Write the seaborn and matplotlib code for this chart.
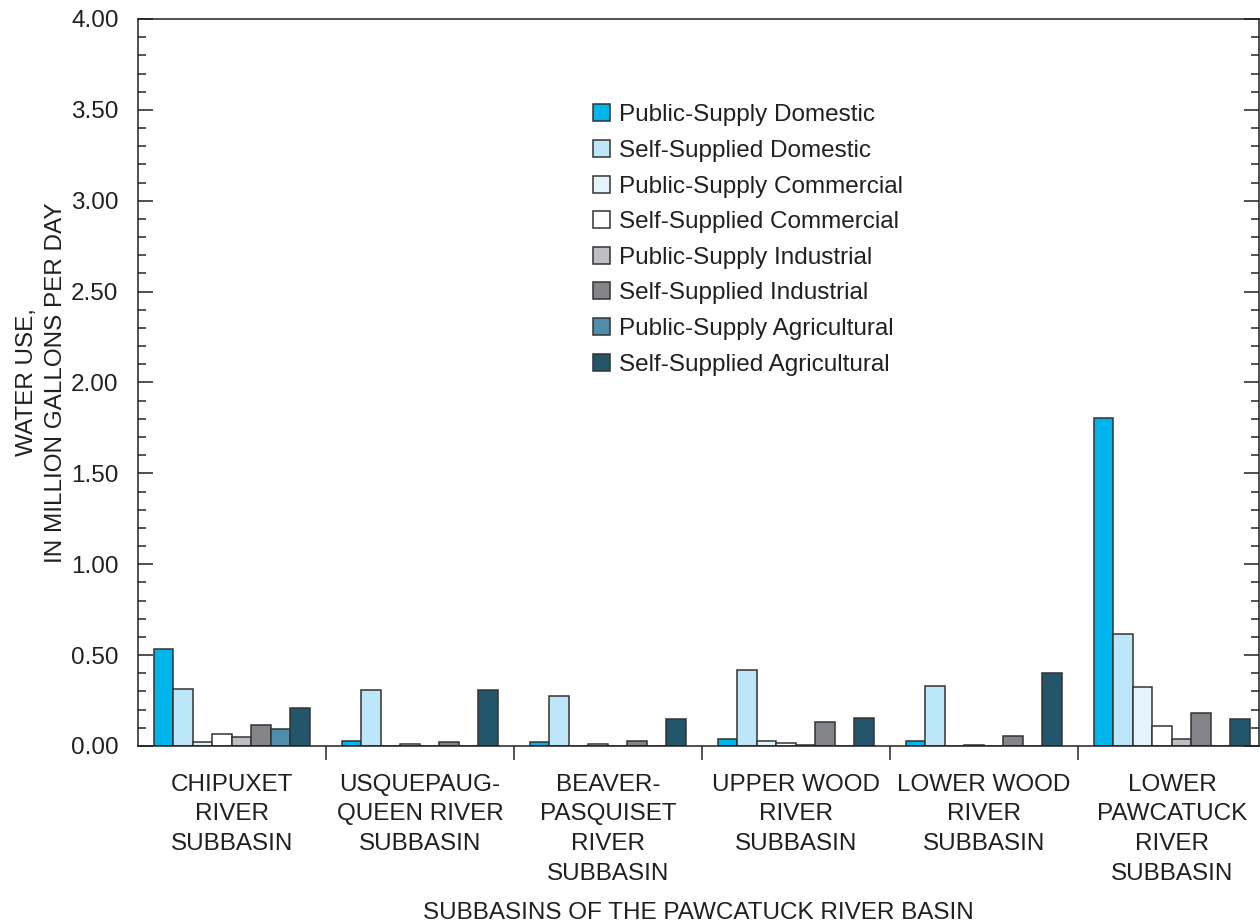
import numpy as np
import pandas as pd
import matplotlib
matplotlib.use("Agg")
import matplotlib.pyplot as plt
import seaborn as sns
from matplotlib.ticker import MultipleLocator, FormatStrFormatter

subbasins = ["CHIPUXET\nRIVER\nSUBBASIN", "USQUEPAUG-\nQUEEN RIVER\nSUBBASIN",
             "BEAVER-\nPASQUISET\nRIVER\nSUBBASIN", "UPPER WOOD\nRIVER\nSUBBASIN",
             "LOWER WOOD\nRIVER\nSUBBASIN", "LOWER\nPAWCATUCK\nRIVER\nSUBBASIN"]
categories = ["Public-Supply Domestic", "Self-Supplied Domestic",
              "Public-Supply Commercial", "Self-Supplied Commercial",
              "Public-Supply Industrial", "Self-Supplied Industrial",
              "Public-Supply Agricultural", "Self-Supplied Agricultural"]

ps_domestic = [0.532, 0.027, 0.024, 0.037, 0.027, 1.806]
ss_domestic = [0.315, 0.310, 0.273, 0.418, 0.332, 0.618]
ps_commercial = [0.022, 0.0, 0.0, 0.030, 0.0, 0.323]
ss_commercial = [0.068, 0.013, 0.011, 0.015, 0.005, 0.110]
ps_industrial = [0.051, 0.0, 0.0, 0.004, 0.0, 0.038]
ss_industrial = [0.115, 0.020, 0.030, 0.130, 0.055, 0.180]
ps_agricultural = [0.092, 0.0, 0.0, 0.0, 0.0, 0.0]
ss_agricultural = [0.207, 0.306, 0.147, 0.154, 0.400, 0.149]

colors = ["#00b4ec", "#bde6f8", "#e5f4fc", "#ffffff",
          "#bdbfc3", "#838589", "#4f8daa", "#24566b"]

series = [ps_domestic, ss_domestic, ps_commercial, ss_commercial,
          ps_industrial, ss_industrial, ps_agricultural, ss_agricultural]
rows = []
for cat, vals in zip(categories, series):
    for sb, v in zip(subbasins, vals):
        rows.append({"subbasin": sb, "use": cat, "mgd": v})
df = pd.DataFrame(rows)

sns.set_style("ticks")
plt.rcParams["font.family"] = ["Liberation Sans", "DejaVu Sans"]
text_color = "#231f20"
fs = 17.5

fig = plt.figure(figsize=(12.6, 9.22), dpi=100)
ax = fig.add_axes([0.1095, 0.1909, 0.8897, 0.7885])

sns.barplot(data=df, x="subbasin", y="mgd", hue="use", order=subbasins,
            hue_order=categories, palette=colors, width=0.83, saturation=1,
            edgecolor="#333333", linewidth=1.1, ax=ax)

ax.set_ylim(0, 4.0)
ax.set_xlim(-0.5, 5.463)
ax.yaxis.set_major_locator(MultipleLocator(0.5))
ax.yaxis.set_minor_locator(MultipleLocator(0.1))
ax.yaxis.set_major_formatter(FormatStrFormatter("%.2f"))
ax.tick_params(axis="y", which="major", direction="in", length=11, width=1.1,
               right=True, labelsize=fs, colors=text_color, pad=14)
ax.tick_params(axis="y", which="minor", direction="in", length=6, width=1.1,
               right=True)

# group separators as major ticks, names as minor tick labels
ax.set_xticks([0.5, 1.5, 2.5, 3.5, 4.5])
ax.set_xticklabels([])
ax.set_xticks(range(len(subbasins)), minor=True)
ax.set_xticklabels(subbasins, minor=True, fontsize=fs, color=text_color,
                   linespacing=1.45)
ax.tick_params(axis="x", which="major", direction="out", length=10, width=1.1)
ax.tick_params(axis="x", which="minor", length=0, pad=20)

for s in ax.spines.values():
    s.set_linewidth(1.1)
    s.set_color("#231f20")

ax.set_xlabel("SUBBASINS OF THE PAWCATUCK RIVER BASIN", fontsize=fs,
              color=text_color)
ax.xaxis.set_label_coords(0.5, -0.2146)
ax.set_ylabel("WATER USE,\nIN MILLION GALLONS PER DAY", fontsize=fs,
              color=text_color, linespacing=1.45)
ax.yaxis.set_label_coords(-0.063, 0.5)

leg = ax.legend(loc="upper left", bbox_to_anchor=(0.397, 0.896), frameon=False,
                fontsize=fs, handlelength=0.7, handleheight=0.7,
                handletextpad=0.4, labelspacing=0.56, borderaxespad=0)
for t in leg.get_texts():
    t.set_color(text_color)

fig.savefig("out.png", dpi=100)
